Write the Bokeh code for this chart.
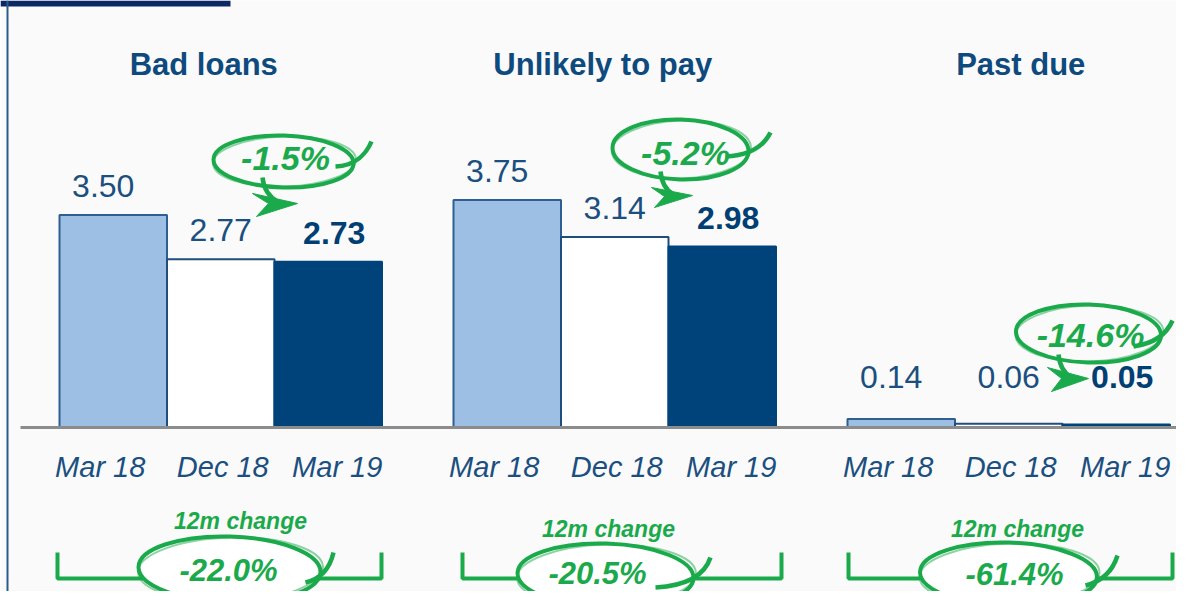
from bokeh.plotting import figure
from bokeh.models import Range1d, ColumnDataSource
from bokeh.core.properties import value
from bokeh.embed import file_html
from bokeh.resources import INLINE

# ---------------- data ----------------
groups = ["Bad loans", "Unlikely to pay", "Past due"]
periods = ["Mar 18", "Dec 18", "Mar 19"]
mar18 = [3.50, 3.75, 0.14]
dec18 = [2.77, 3.14, 0.06]
mar19 = [2.73, 2.98, 0.05]
qoq_change = ["-1.5%", "-5.2%", "-14.6%"]
yoy_change = ["-22.0%", "-20.5%", "-61.4%"]
yoy_caption = "12m change"

# ---------------- layout / style ----------------
W, H = 1176, 591
PXU = 60.7          # pixels per unit on value axis
BASE_SY = 427       # screen y of the value baseline
GROUP_X0 = 59
GROUP_STRIDE = 394
BAR_W = 107.5
FONT = "Liberation Sans"
GREEN = "#1BAA4B"
NAVY_TXT = "#1B4F80"
NAVY_BOLD = "#003F73"
TITLE_C = "#0E4A7E"
BG = "#FAFAFA"

bar_fill = ["#9DBFE4", "#FFFFFF", "#00437A"]
bar_line = ["#2F5E92", "#1F4E7D", "#00437A"]
period_dx = [-13, 2, 9]
label_dx = [-10, 0, 6]
title_dx = [-17, -12, 12]

p = figure(width=W, height=H, output_backend="svg", toolbar_location=None,
           x_range=Range1d(0, W),
           y_range=Range1d(-(H - BASE_SY) / PXU, BASE_SY / PXU),
           x_axis_location=None, y_axis_location=None, min_border=0)
p.extra_y_ranges = {"px": Range1d(start=H, end=0)}
p.grid.visible = False
p.outline_line_color = None
p.background_fill_color = BG
p.border_fill_color = BG

# decorative frame pieces
p.quad(left=[0], right=[230], top=[0], bottom=[6], fill_color="#0B2865",
       line_color=None, y_range_name="px")
p.segment(x0=[7], y0=[0], x1=[7], y1=[H], line_color="#2A5B8C",
          line_width=2, y_range_name="px")

# ---------------- bars ----------------
series = [mar18, dec18, mar19]
xs, lxs, tops, fills, lines, labels, lab_y, weights, lcols = [], [], [], [], [], [], [], [], []
for g in range(len(groups)):
    for i, s in enumerate(series):
        cx = GROUP_X0 + g * GROUP_STRIDE + (i + 0.5) * BAR_W
        xs.append(cx)
        lxs.append(cx + label_dx[i])
        tops.append(s[g])
        fills.append(bar_fill[i])
        lines.append(bar_line[i])
        labels.append(f"{s[g]:.2f}")
        lab_y.append(max(s[g], 0.35))
        weights.append("bold" if i == 2 else "normal")
        lcols.append(NAVY_BOLD if i == 2 else NAVY_TXT)

src = ColumnDataSource(dict(x=xs, lx=lxs, top=tops, fill=fills, line=lines, label=labels,
                            ly=lab_y, fw=weights, lc=lcols))
p.vbar(x="x", top="top", bottom=0, width=BAR_W, fill_color="fill",
       line_color="line", line_width=2, source=src)
p.text(x="lx", y="ly", text="label", source=src, text_align="center",
       text_baseline="middle", y_offset=-29, text_font=value(FONT),
       text_font_size="32px", text_font_style="fw", text_color="lc")

# baseline
p.segment(x0=[20], y0=[BASE_SY], x1=[W], y1=[BASE_SY], line_color="#8C8C8C",
          line_width=3, y_range_name="px")

# period labels
px_, pt_ = [], []
for g in range(len(groups)):
    for i, per in enumerate(periods):
        px_.append(GROUP_X0 + g * GROUP_STRIDE + (i + 0.5) * BAR_W + period_dx[i])
        pt_.append(per)
p.text(x=px_, y=[466] * len(px_), text=pt_, y_range_name="px", text_align="center",
       text_baseline="middle", text_font=value(FONT), text_font_size="29px",
       text_font_style="italic", text_color=NAVY_TXT)

# titles
tx = [GROUP_X0 + g * GROUP_STRIDE + 1.5 * BAR_W + title_dx[g] for g in range(len(groups))]
p.text(x=tx, y=[64] * 3, text=groups, y_range_name="px", text_align="center",
       text_baseline="middle", text_font=value(FONT), text_font_size="31px",
       text_font_style="bold", text_color=TITLE_C)

# ---------------- quarter change annotations ----------------
top_ell = [(283, 161, 140, 52), (680, 149, 136, 60), (1088, 333, 145, 58)]
top_txt = [(285, 157), (685, 152), (1090, 334)]
top_tail = [((335, 166), (355, 165), (366, 153), (371, 141)),
            ((725, 156), (748, 155), (763, 146), (770, 132)),
            ((1133, 346), (1153, 343), (1166, 334), (1172, 320))]
arrow_shaft = [((262, 177), (263, 188), (268, 196), (278, 202)),
               ((660, 171), (661, 181), (664, 189), (673, 194)),
               ((1058, 354), (1059, 364), (1062, 372), (1071, 377))]
arrow_head = [[(252, 193), (297, 203), (256, 216), (268, 203)],
              [(651, 187), (692, 195), (654, 207), (664, 196)],
              [(1047, 367), (1088, 378), (1051, 391), (1061, 378)]]

for (cx, cy, w, h) in top_ell:
    p.ellipse(x=[cx], y=[cy], width=[w], height=[h], width_units="screen",
              height_units="screen", angle=-0.03, fill_color=None, line_color=GREEN,
              line_width=4, y_range_name="px")
    p.ellipse(x=[cx + 1], y=[cy], width=[w + 3], height=[h - 2], width_units="screen",
              height_units="screen", angle=0.03, fill_color=None, line_color=GREEN,
              line_width=2, line_alpha=0.5, y_range_name="px")
for seg in top_tail + arrow_shaft:
    p.bezier(x0=[seg[0][0]], y0=[seg[0][1]], cx0=[seg[1][0]], cy0=[seg[1][1]],
             cx1=[seg[2][0]], cy1=[seg[2][1]], x1=[seg[3][0]], y1=[seg[3][1]],
             line_color=GREEN, line_width=4.5, y_range_name="px")
p.patches(xs=[[pt[0] for pt in hd] for hd in arrow_head],
          ys=[[pt[1] for pt in hd] for hd in arrow_head],
          fill_color=GREEN, line_color=GREEN, line_width=1, y_range_name="px")
p.text(x=[t[0] for t in top_txt], y=[t[1] for t in top_txt], text=qoq_change,
       y_range_name="px", text_align="center", text_baseline="middle",
       text_font=value(FONT), text_font_size="34px", text_font_style="bold italic",
       text_color=GREEN)

# ---------------- 12m change annotations ----------------
brackets = [(57, 381), (462, 781), (848, 1172)]
p.multi_line(xs=[[a, a, b, b] for a, b in brackets],
             ys=[[552, 578, 578, 552] for _ in brackets],
             line_color=GREEN, line_width=4, y_range_name="px")
bot_ell = [(229, 569, 182, 66), (605, 575, 176, 64), (1008, 574, 177, 64)]
for (cx, cy, w, h) in bot_ell:
    p.ellipse(x=[cx], y=[cy], width=[w], height=[h], width_units="screen",
              height_units="screen", angle=-0.03, fill_color="#FFFFFF",
              line_color=GREEN, line_width=4, y_range_name="px")
    p.ellipse(x=[cx + 1], y=[cy], width=[w + 3], height=[h - 2], width_units="screen",
              height_units="screen", angle=0.03, fill_color=None, line_color=GREEN,
              line_width=2, line_alpha=0.5, y_range_name="px")
bot_tail = [((305, 582), (322, 578), (330, 565), (333, 552)),
            ((655, 587), (690, 585), (705, 572), (710, 557)),
            ((1085, 585), (1105, 580), (1113, 568), (1117, 555))]
for seg in bot_tail:
    p.bezier(x0=[seg[0][0]], y0=[seg[0][1]], cx0=[seg[1][0]], cy0=[seg[1][1]],
             cx1=[seg[2][0]], cy1=[seg[2][1]], x1=[seg[3][0]], y1=[seg[3][1]],
             line_color=GREEN, line_width=4.5, y_range_name="px")
p.text(x=[240, 608, 1017], y=[520, 528, 528], text=[yoy_caption] * 3,
       y_range_name="px", text_align="center", text_baseline="middle",
       text_font=value(FONT), text_font_size="23px", text_font_style="bold italic",
       text_color=GREEN)
p.text(x=[228, 597, 1014], y=[570, 573, 574], text=yoy_change,
       y_range_name="px", text_align="center", text_baseline="middle",
       text_font=value(FONT), text_font_size="31px", text_font_style="bold italic",
       text_color=GREEN)

open("out.html", "w").write(file_html(p, INLINE))
